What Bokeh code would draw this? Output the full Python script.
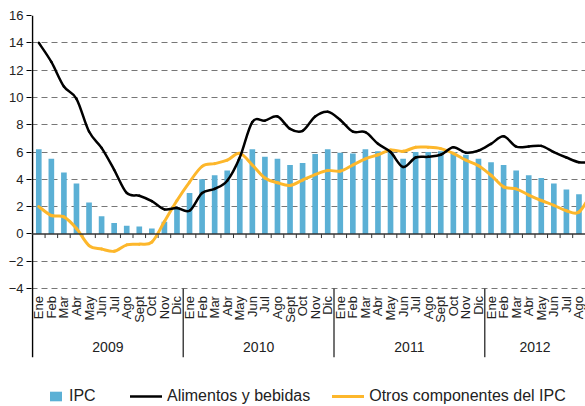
import numpy as np
from bokeh.plotting import figure
from bokeh.models import Range1d, FixedTicker, Span, Legend, LegendItem
from bokeh.core.properties import value
from bokeh.embed import file_html
from bokeh.resources import INLINE

# ---------------- data ----------------
month_names = ["Ene", "Feb", "Mar", "Abr", "May", "Jun", "Jul", "Ago", "Sept", "Oct", "Nov", "Dic"]
years = ["2009", "2010", "2011", "2012"]
months_per_year = [12, 12, 12, 8]
month_labels = [m for n in months_per_year for m in month_names[:n]]

# IPC (bars), Ene 2009 .. Ago 2012
ipc = [6.2, 5.5, 4.5, 3.7, 2.3, 1.3, 0.8, 0.6, 0.55, 0.4, 0.9, 1.95,
       3.0, 4.0, 4.3, 4.65, 5.5, 6.2, 5.65, 5.5, 5.05, 5.2, 5.85, 6.2,
       5.95, 5.9, 6.2, 6.05, 6.05, 5.5, 6.0, 6.0, 6.05, 6.0, 5.8, 5.5,
       5.25, 5.05, 4.65, 4.3, 4.1, 3.7, 3.25, 2.9]

# lines: Ene 2009 .. Ago 2012, plus Sep 2012 (only its start is visible at the right edge)
alimentos = [14.0, 12.6, 10.8, 9.9, 7.5, 6.3, 4.7, 3.0, 2.8, 2.4, 1.8, 1.9,
             1.7, 3.0, 3.3, 3.9, 5.6, 8.2, 8.3, 8.6, 7.7, 7.55, 8.6, 8.95,
             8.35, 7.5, 7.45, 6.6, 6.0, 4.9, 5.6, 5.65, 5.8, 6.35, 5.95, 6.1,
             6.6, 7.15, 6.4, 6.4, 6.45, 6.0, 5.6, 5.25,
             5.25]
otros = [2.0, 1.35, 1.25, 0.4, -0.85, -1.1, -1.27, -0.8, -0.75, -0.6, 0.9, 2.45,
         3.8, 4.95, 5.15, 5.4, 5.9, 5.05, 4.1, 3.75, 3.55, 3.95, 4.35, 4.65,
         4.6, 5.05, 5.5, 5.8, 6.15, 6.05, 6.35, 6.35, 6.25, 5.9, 5.4, 5.0,
         4.3, 3.45, 3.3, 2.85, 2.45, 2.1, 1.7, 1.6,
         3.0]

y_ticks = [-4, -2, 0, 2, 4, 6, 8, 10, 12, 14, 16]

FONT = "Liberation Sans"
BLUE = "#5BB0D5"
ORANGE = "#FDB72B"
N = len(month_labels)
Y_TOP = 16
Y_BOTTOM = -12.64      # frame reaches the bottom of the picture (legend lives inside it)
AXIS_END = -9.03       # where the vertical axis / year separators stop

p = figure(width=585, height=406, output_backend="svg", toolbar_location=None,
           x_range=Range1d(-0.08, N + 0.02), y_range=Range1d(Y_BOTTOM, Y_TOP),
           x_axis_location=None,
           min_border_left=31, min_border_right=0, min_border_top=15, min_border_bottom=0)
p.outline_line_color = None
p.xgrid.visible = False
p.background_fill_color = "white"

# y axis (line drawn separately so that it stops at the year band)
yax = p.yaxis[0]
yax.ticker = FixedTicker(ticks=y_ticks)
yax.axis_line_color = None
yax.major_tick_out = 5
yax.major_tick_in = 0
yax.major_tick_line_color = "black"
yax.major_tick_line_width = 1.2
yax.minor_tick_line_color = None
yax.major_label_text_font = FONT
yax.major_label_text_font_size = "13px"
yax.major_label_text_color = "#222222"
yax.major_label_standoff = 3

# grid
p.ygrid.ticker = FixedTicker(ticks=[t for t in y_ticks if t != 0])
p.ygrid.grid_line_color = "#777777"
p.ygrid.grid_line_dash = "6 4"
p.ygrid.grid_line_width = 1

# bars
xc = np.arange(N) + 0.5
bars = p.vbar(x=xc, top=ipc, bottom=0, width=0.45, fill_color=BLUE, line_color=None)

# zero line and month ticks
p.add_layout(Span(location=0, dimension="width", line_color="#333333", line_width=1.5))
bounds = np.arange(1, N)
p.segment(x0=bounds, y0=0, x1=bounds, y1=-0.3, line_color="#333333", line_width=1)


def smooth(vals):
    y = np.asarray(vals, float)
    x = np.arange(len(y)) + 0.5
    xp = np.concatenate([[x[0]], x, [x[-1]]])
    yp = np.concatenate([[y[0]], y, [y[-1]]])
    n = len(y)
    i = np.arange(n - 1)
    cx0 = xp[i + 1] + (xp[i + 2] - xp[i]) / 6
    cy0 = yp[i + 1] + (yp[i + 2] - yp[i]) / 6
    cx1 = xp[i + 2] - (xp[i + 3] - xp[i + 1]) / 6
    cy1 = yp[i + 2] - (yp[i + 3] - yp[i + 1]) / 6
    return dict(x0=x[:-1], y0=y[:-1], x1=x[1:], y1=y[1:], cx0=cx0, cy0=cy0, cx1=cx1, cy1=cy1)


l_orange = p.bezier(**smooth(otros), line_color=ORANGE, line_width=3, line_cap="round")
l_black = p.bezier(**smooth(alimentos), line_color="black", line_width=2.5, line_cap="round")

# vertical axis line
p.segment(x0=[0], y0=[Y_TOP], x1=[0], y1=[AXIS_END], line_color="black", line_width=1.5)

# month labels and year groups
p.text(x=xc, y=-4.55, text=month_labels, angle=np.pi / 2, text_align="right",
       text_baseline="middle", text_font=value(FONT), text_font_size="13px", text_color="#222222")
starts = np.concatenate([[0], np.cumsum(months_per_year)[:-1]])
centers = starts + np.array(months_per_year) / 2
p.text(x=centers, y=-8.3, text=years, text_align="center", text_baseline="middle",
       text_font=value(FONT), text_font_size="14px", text_color="#222222")
seps = np.cumsum(months_per_year)[:-1]
p.segment(x0=seps, y0=-4, x1=seps, y1=AXIS_END, line_color="#444444", line_width=1.5)

# legends
common = dict(orientation="horizontal", label_text_font=FONT, label_text_font_size="16px",
              label_text_color="#222222", padding=0, margin=0, border_line_color=None,
              background_fill_alpha=0, label_height=14, glyph_height=12)
leg1 = Legend(items=[LegendItem(label="IPC", renderers=[bars])], location=(17, 1),
              glyph_width=15, label_standoff=6, **common)
leg2 = Legend(items=[LegendItem(label="Alimentos y bebidas", renderers=[l_black]),
                     LegendItem(label="Otros componentes del IPC", renderers=[l_orange])],
              location=(99, 1), glyph_width=32, label_standoff=5, spacing=22, **common)
p.add_layout(leg1)
p.add_layout(leg2)

open("out.html", "w").write(file_html(p, INLINE))
